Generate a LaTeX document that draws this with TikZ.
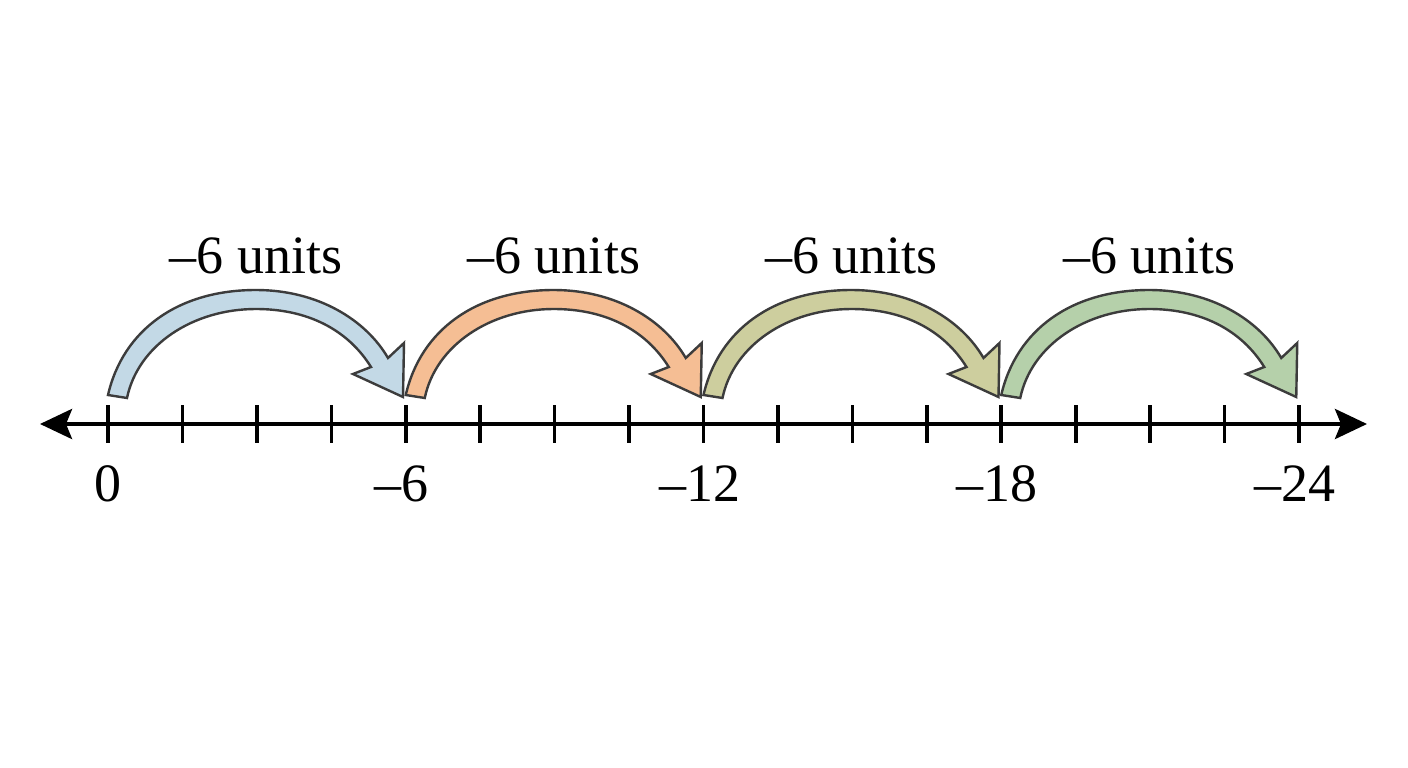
\documentclass[tikz,border=0pt]{standalone}
\usepackage{fontspec}
\setmainfont{Liberation Serif}
\usetikzlibrary{arrows.meta}
\definecolor{jblue}{HTML}{C3D9E6}
\definecolor{jorange}{HTML}{F5BE94}
\definecolor{jolive}{HTML}{CDCE9E}
\definecolor{jgreen}{HTML}{B5D0AA}
\definecolor{jedge}{HTML}{3C3C3C}
\begin{document}
\begin{tikzpicture}[x=1pt,y=-1pt,
  jumparrow/.style={draw=jedge, line width=2.4pt, line join=miter, fill=#1},
  jumplabel/.style={anchor=base, inner sep=0pt, font=\fontsize{54}{60}\selectfont},
  ticklabel/.style={anchor=base, inner sep=0pt, font=\fontsize{54}{60}\selectfont},
  axisline/.style={line width=4.2pt, {Stealth[length=32pt,width=30pt,inset=6pt]}-{Stealth[length=32pt,width=30pt,inset=6pt]}},
  tickmark/.style={line width=3.6pt}]
\useasboundingbox (0,0) rectangle (1408,768);
\fill[white] (0,0) rectangle (1408,768);
% axis
\coordinate (L) at (40,424);
\coordinate (R) at (1367,424);
\draw[axisline] (L) -- (R);
% ticks
\foreach \k in {0,...,16} {
  \coordinate (t\k a) at ({108+\k*74.44},405);
  \coordinate (t\k b) at ({108+\k*74.44},443);
  \draw[tickmark] (t\k a) -- (t\k b);
}
% tick labels
\node[ticklabel] (n0) at (108,501) {0};
\node[ticklabel] (n6) at (401,501) {–6};
\node[ticklabel] (n12) at (700,501) {–12};
\node[ticklabel] (n18) at (997,501) {–18};
\node[ticklabel] (n24) at (1295,501) {–24};
% jump arrows
\foreach \i/\c in {0/jblue,1/jorange,2/jolive,3/jgreen} {
  \begin{scope}[xshift={108pt+\i*297.75pt}]
    \path[jumparrow=\c] (0,395) .. controls (15,330) and (70,290) .. (148,290)
      .. controls (210,290) and (258,320) .. (280,358)
      -- (296,343) -- (295,397) -- (245,374) -- (263,367)
      .. controls (240,330) and (200,309) .. (148,309)
      .. controls (85,309) and (30,345) .. (19,398) -- cycle;
    \node[jumplabel] (lab\i) at (148,273) {–6 units};
  \end{scope}
}
\end{tikzpicture}
\end{document}
